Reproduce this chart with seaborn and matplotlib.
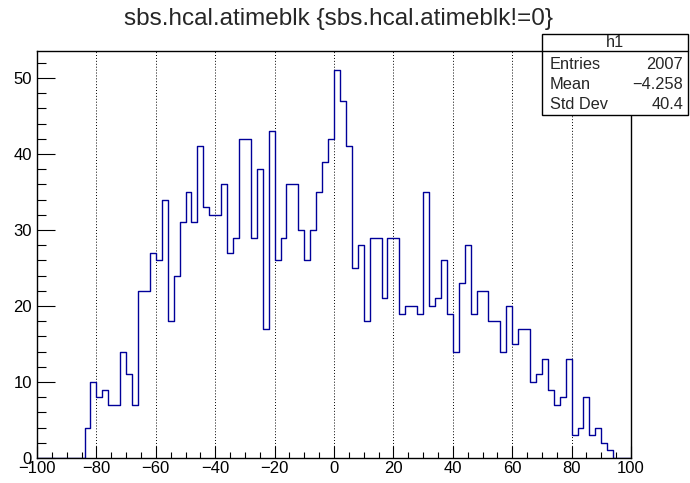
import numpy as np
import pandas as pd
import matplotlib
matplotlib.use("Agg")
import matplotlib.pyplot as plt
from matplotlib.patches import Rectangle
from matplotlib.lines import Line2D
from matplotlib.ticker import MultipleLocator
import seaborn as sns

# Histogram of sbs.hcal.atimeblk: 100 bins of width 2 between -100 and 100
x_range = (-100, 100)
bin_width = 2
counts = [
    0, 0, 0, 0, 0, 0, 0, 0,
    4, 10, 8, 9, 7, 7, 14, 11, 7, 22,
    22, 27, 26, 34, 18, 24, 31, 35, 31, 41,
    33, 32, 32, 36, 27, 29, 42, 42, 29, 38,
    17, 43, 26, 29, 36, 36, 30, 26, 30, 35,
    39, 42, 51, 47, 41, 25, 28, 18, 29, 29,
    21, 29, 29, 19, 20, 20, 19, 35, 20, 21,
    26, 19, 14, 23, 28, 19, 22, 22, 18, 18,
    14, 20, 15, 17, 17, 10, 11, 13, 9, 7,
    8, 13, 3, 4, 8, 3, 4, 2, 1, 0,
    0, 0,
]
bin_centers = np.arange(x_range[0] + bin_width / 2, x_range[1], bin_width)

stats_title = "h1"
stats_labels = ["Entries", "Mean", "Std Dev"]
stats_values = ["2007", "\u22124.258", "40.4"]
title = "sbs.hcal.atimeblk {sbs.hcal.atimeblk!=0}"

df = pd.DataFrame({"atimeblk": bin_centers, "n": counts})

sns.set_style("white")
plt.rcParams["font.family"] = ["Liberation Sans", "DejaVu Sans"]

W, H = 690, 483
fig = plt.figure(figsize=(W / 100, H / 100), dpi=100)
ax = fig.add_axes([37 / W, (H - 458) / H, 594 / W, (458 - 51) / H])

sns.histplot(data=df, x="atimeblk", weights="n", binwidth=bin_width,
             binrange=x_range, element="step", fill=False, color="#000099",
             linewidth=1.0, ax=ax)

ax.set_xlim(*x_range)
ax.set_ylim(0, max(counts) * 1.05)
ax.set_xlabel("")
ax.set_ylabel("")

ax.xaxis.set_major_locator(MultipleLocator(20))
ax.xaxis.set_minor_locator(MultipleLocator(5))
ax.yaxis.set_major_locator(MultipleLocator(10))
ax.yaxis.set_minor_locator(MultipleLocator(2))

ax.tick_params(axis="both", which="both", direction="in", colors="black",
               labelsize=12, top=False, right=False, bottom=True, left=True)
ax.tick_params(axis="x", which="major", length=8.6, width=0.8, pad=2.5)
ax.tick_params(axis="x", which="minor", length=4.3, width=0.8)
ax.tick_params(axis="y", which="major", length=13, width=0.8, pad=3.6)
ax.tick_params(axis="y", which="minor", length=6.5, width=0.8)

ax.grid(axis="x", which="major", linestyle=(0, (1, 2)), color="black",
        linewidth=0.7)
ax.grid(axis="y", visible=False)
for s in ax.spines.values():
    s.set_color("black")
    s.set_linewidth(1.0)
    s.set_zorder(3)

fig.text(339 / W, 1 - 19 / H, title, ha="center", va="center", fontsize=17.5)

# statistics box
bx0, by0, bx1, by1 = 542, 34, 688, 115
fig.patches.append(Rectangle((bx0 / W, 1 - by1 / H), (bx1 - bx0) / W,
                             (by1 - by0) / H, transform=fig.transFigure,
                             facecolor="white", edgecolor="black",
                             linewidth=1.0, zorder=5))
fig.lines.append(Line2D([bx0 / W, bx1 / W], [1 - 51 / H, 1 - 51 / H],
                        transform=fig.transFigure, color="black",
                        linewidth=1.0, zorder=6))
fig.text((bx0 + bx1) / 2 / W, 1 - 42.5 / H, stats_title, ha="center",
         va="center", fontsize=11.8, zorder=7)
for i, (lab, val) in enumerate(zip(stats_labels, stats_values)):
    y = 1 - (64.5 + i * 20) / H
    fig.text(550 / W, y, lab, ha="left", va="center", fontsize=11.8, zorder=7)
    fig.text(683 / W, y, val, ha="right", va="center", fontsize=11.8, zorder=7)

fig.savefig("out.png", dpi=100)
